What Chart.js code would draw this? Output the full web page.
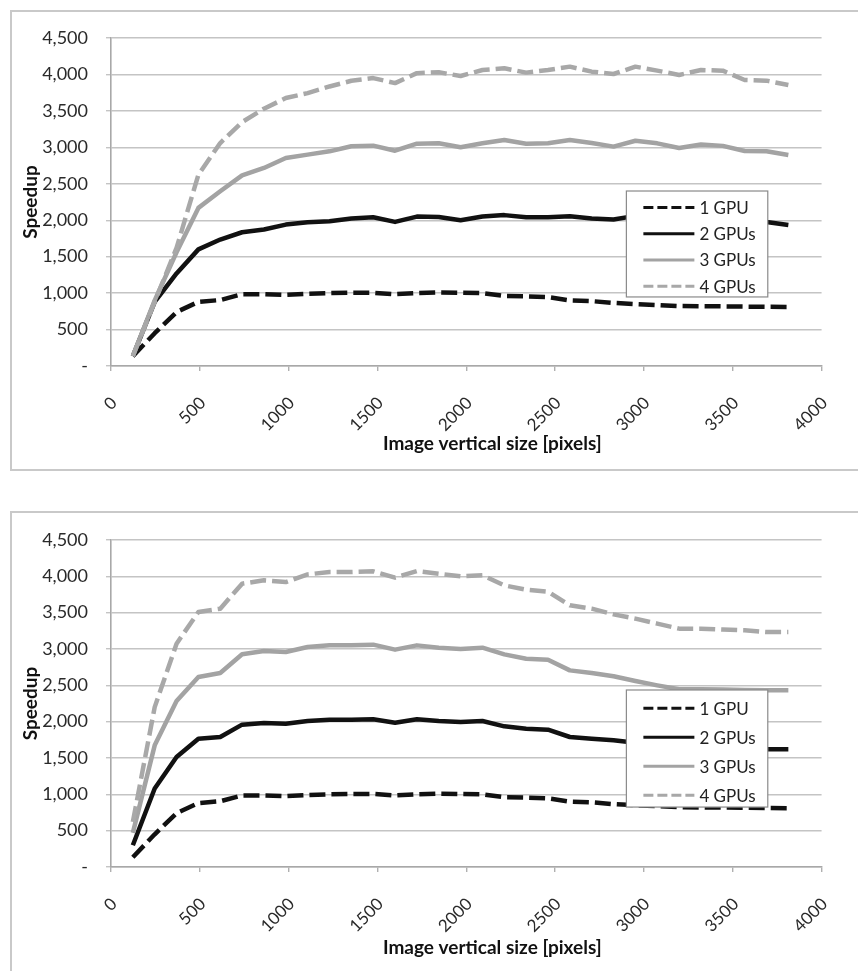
<!DOCTYPE html>
<html lang="en">
<head>
<meta charset="UTF-8">
<title>Speedup vs image vertical size</title>
<script src="https://cdn.jsdelivr.net/npm/chart.js"></script>
<style>
    body {
        margin: 0;
        background: #fff;
        width: 858px;
        height: 971px;
        position: relative;
        overflow: hidden;
        font-family: Lato, sans-serif;
    }
    .frame {
        position: absolute;
        left: 10px;
        width: 900px;
        border: 2px solid #c9c9c9;
        box-sizing: border-box;
    }
    canvas { position: absolute; left: 0; }
</style>
</head>
<body>
<div class="frame" style="top:10px;height:461px"></div>
<div class="frame" style="top:511px;height:500px"></div>
<canvas id="chartTop" width="858" height="480" style="top:0"></canvas>
<canvas id="chartBottom" width="858" height="471" style="top:500px"></canvas>

<script>
// image vertical size [pixels]
const sizes = [123, 246, 369, 492, 615, 738, 861, 984, 1107, 1230, 1353, 1476, 1599, 1722, 1845, 1968,
               2091, 2214, 2337, 2460, 2583, 2706, 2829, 2952, 3075, 3198, 3321, 3444, 3567, 3690, 3813];

const seriesNames = ['1 GPU', '2 GPUs', '3 GPUs', '4 GPUs'];

// 1 GPU is the same in both charts
const oneGpu = [135, 450, 740, 880, 905, 985, 985, 975, 990, 1000, 1005, 1005, 985, 1000, 1010, 1005,
                1000, 960, 955, 945, 900, 890, 865, 850, 837, 823, 820, 818, 815, 812, 810];

// top chart
const twoGpuTop = [135, 880, 1270, 1600, 1735, 1835, 1872, 1940, 1972, 1986, 2023, 2041, 1977, 2050, 2045, 2000,
                   2050, 2070, 2040, 2040, 2055, 2025, 2010, 2060, 2037, 1993, 2027, 2013, 1967, 1975, 1934];
const threeGpuTop = [135, 900, 1560, 2169, 2397, 2616, 2717, 2854, 2900, 2945, 3014, 3023, 2954, 3050, 3055, 3000,
                     3055, 3100, 3050, 3055, 3100, 3060, 3010, 3090, 3055, 2990, 3040, 3020, 2950, 2945, 2895];
const fourGpuTop = [135, 880, 1620, 2625, 3059, 3347, 3530, 3676, 3744, 3835, 3913, 3950, 3881, 4018, 4030, 3979,
                    4061, 4085, 4025, 4061, 4107, 4038, 4006, 4107, 4052, 3993, 4061, 4052, 3924, 3915, 3855];

// bottom chart
const twoGpuBottom = [300, 1080, 1514, 1766, 1789, 1959, 1982, 1972, 2009, 2027, 2027, 2032, 1986, 2032, 2009, 1995,
                      2009, 1936, 1904, 1890, 1789, 1766, 1743, 1710, 1670, 1635, 1630, 1625, 1620, 1620, 1620];
const threeGpuBottom = [470, 1674, 2284, 2615, 2670, 2927, 2972, 2959, 3027, 3050, 3050, 3060, 2991, 3050, 3018, 3000,
                        3018, 2926, 2866, 2853, 2706, 2669, 2624, 2559, 2500, 2445, 2445, 2441, 2435, 2431, 2431];
const fourGpuBottom = [620, 2200, 3073, 3509, 3555, 3899, 3945, 3922, 4027, 4059, 4059, 4069, 3982, 4073, 4036, 4000,
                       4014, 3876, 3817, 3790, 3601, 3555, 3477, 3418, 3349, 3280, 3280, 3267, 3257, 3234, 3234];

const lineStyles = [
    { color: '#111111', dash: [16, 6], legendDash: [10, 4] },
    { color: '#111111', dash: [], legendDash: [] },
    { color: '#a3a3a3', dash: [], legendDash: [] },
    { color: '#a8a8a8', dash: [16, 6], legendDash: [10, 4] }
];

// legend box drawn inside the plot area
const boxLegend = {
    id: 'boxLegend',
    afterDraw(chart, args, o) {
        const a = chart.chartArea, ctx = chart.ctx;
        const x = a.left + o.left * a.width, y = a.top + o.top * a.height;
        const w = o.width * a.width, h = o.height * a.height;
        ctx.save();
        ctx.fillStyle = '#fff';
        ctx.fillRect(x, y, w, h);
        ctx.strokeStyle = '#8a8a8a';
        ctx.lineWidth = 1.2;
        ctx.strokeRect(x, y, w, h);
        chart.data.datasets.forEach((ds, i) => {
            const ry = y + h * 0.155 + i * h * 0.248;
            ctx.beginPath();
            ctx.setLineDash(lineStyles[i].legendDash);
            ctx.strokeStyle = ds.borderColor;
            ctx.lineWidth = 3;
            ctx.moveTo(x + 17, ry);
            ctx.lineTo(x + 68, ry);
            ctx.stroke();
            ctx.setLineDash([]);
            ctx.fillStyle = '#222';
            ctx.font = '17px Lato';
            ctx.textAlign = 'left';
            ctx.textBaseline = 'middle';
            ctx.fillText(ds.label, x + 73, ry + 1);
        });
        ctx.restore();
    }
};

const xTitle = {
    id: 'xTitle',
    afterDraw(chart, args, o) {
        const a = chart.chartArea, ctx = chart.ctx;
        ctx.save();
        ctx.font = 'bold 19px Lato';
        ctx.fillStyle = '#111';
        ctx.textAlign = 'center';
        ctx.textBaseline = 'middle';
        ctx.fillText(o.text, (a.left + a.right) / 2 + o.shift, a.bottom + o.dy);
        ctx.restore();
    }
};

function makeChart(id, series, padTop, xHeight, legendOpts, titleDy) {
    const datasets = series.map((vals, i) => ({
        label: seriesNames[i],
        data: sizes.map((s, j) => ({ x: s, y: vals[j] })),
        borderColor: lineStyles[i].color,
        borderDash: lineStyles[i].dash,
        borderWidth: 4.5,
        borderCapStyle: 'butt',
        borderJoinStyle: 'round',
        pointRadius: 0,
        tension: 0,
        fill: false,
        order: 4 - i
    }));

    return new Chart(document.getElementById(id), {
        type: 'line',
        data: { datasets: datasets },
        options: {
            responsive: false,
            animation: false,
            devicePixelRatio: 1,
            layout: { padding: { left: 0, right: 19, top: padTop, bottom: 0 } },
            plugins: {
                legend: { display: false },
                tooltip: { enabled: false },
                boxLegend: legendOpts,
                xTitle: { text: 'Image vertical size [pixels]', shift: 26, dy: titleDy }
            },
            scales: {
                x: {
                    type: 'linear',
                    min: 0,
                    max: 4000,
                    afterFit: s => { s.height = xHeight; },
                    ticks: {
                        stepSize: 500,
                        autoSkip: false,
                        minRotation: 45,
                        maxRotation: 45,
                        padding: 22,
                        labelOffset: 3,
                        color: '#2a2a2a',
                        font: { family: 'Lato', size: 17 },
                        callback: v => String(v)
                    },
                    grid: { drawOnChartArea: false, drawTicks: true, tickLength: 5, color: '#b0b0b0', lineWidth: 1.4 },
                    border: { display: true, color: '#a8a8a8', width: 1.6 }
                },
                y: {
                    min: 0,
                    max: 4500,
                    afterFit: s => { s.width = 111; },
                    ticks: {
                        stepSize: 500,
                        padding: 18,
                        color: '#2a2a2a',
                        font: { family: 'Lato', size: 18 },
                        callback: v => v === 0 ? '-' : v.toLocaleString('en-US')
                    },
                    grid: { color: '#c4c4c4', lineWidth: 1.4, tickLength: 5 },
                    border: { display: true, color: '#a8a8a8', width: 1.6 },
                    title: {
                        display: true,
                        text: 'Speedup',
                        color: '#111',
                        font: { family: 'Lato', size: 19, weight: 'bold' },
                        padding: { top: 19, bottom: 0 }
                    }
                }
            }
        },
        plugins: [boxLegend, xTitle]
    });
}

makeChart('chartTop', [oneGpu, twoGpuTop, threeGpuTop, fourGpuTop], 38, 114,
    { left: 0.7253, top: 0.4665, width: 0.199, height: 0.323 }, 78);
makeChart('chartBottom', [oneGpu, twoGpuBottom, threeGpuBottom, fourGpuBottom], 40, 104,
    { left: 0.7253, top: 0.4587, width: 0.199, height: 0.358 }, 81);
</script>
</body>
</html>
